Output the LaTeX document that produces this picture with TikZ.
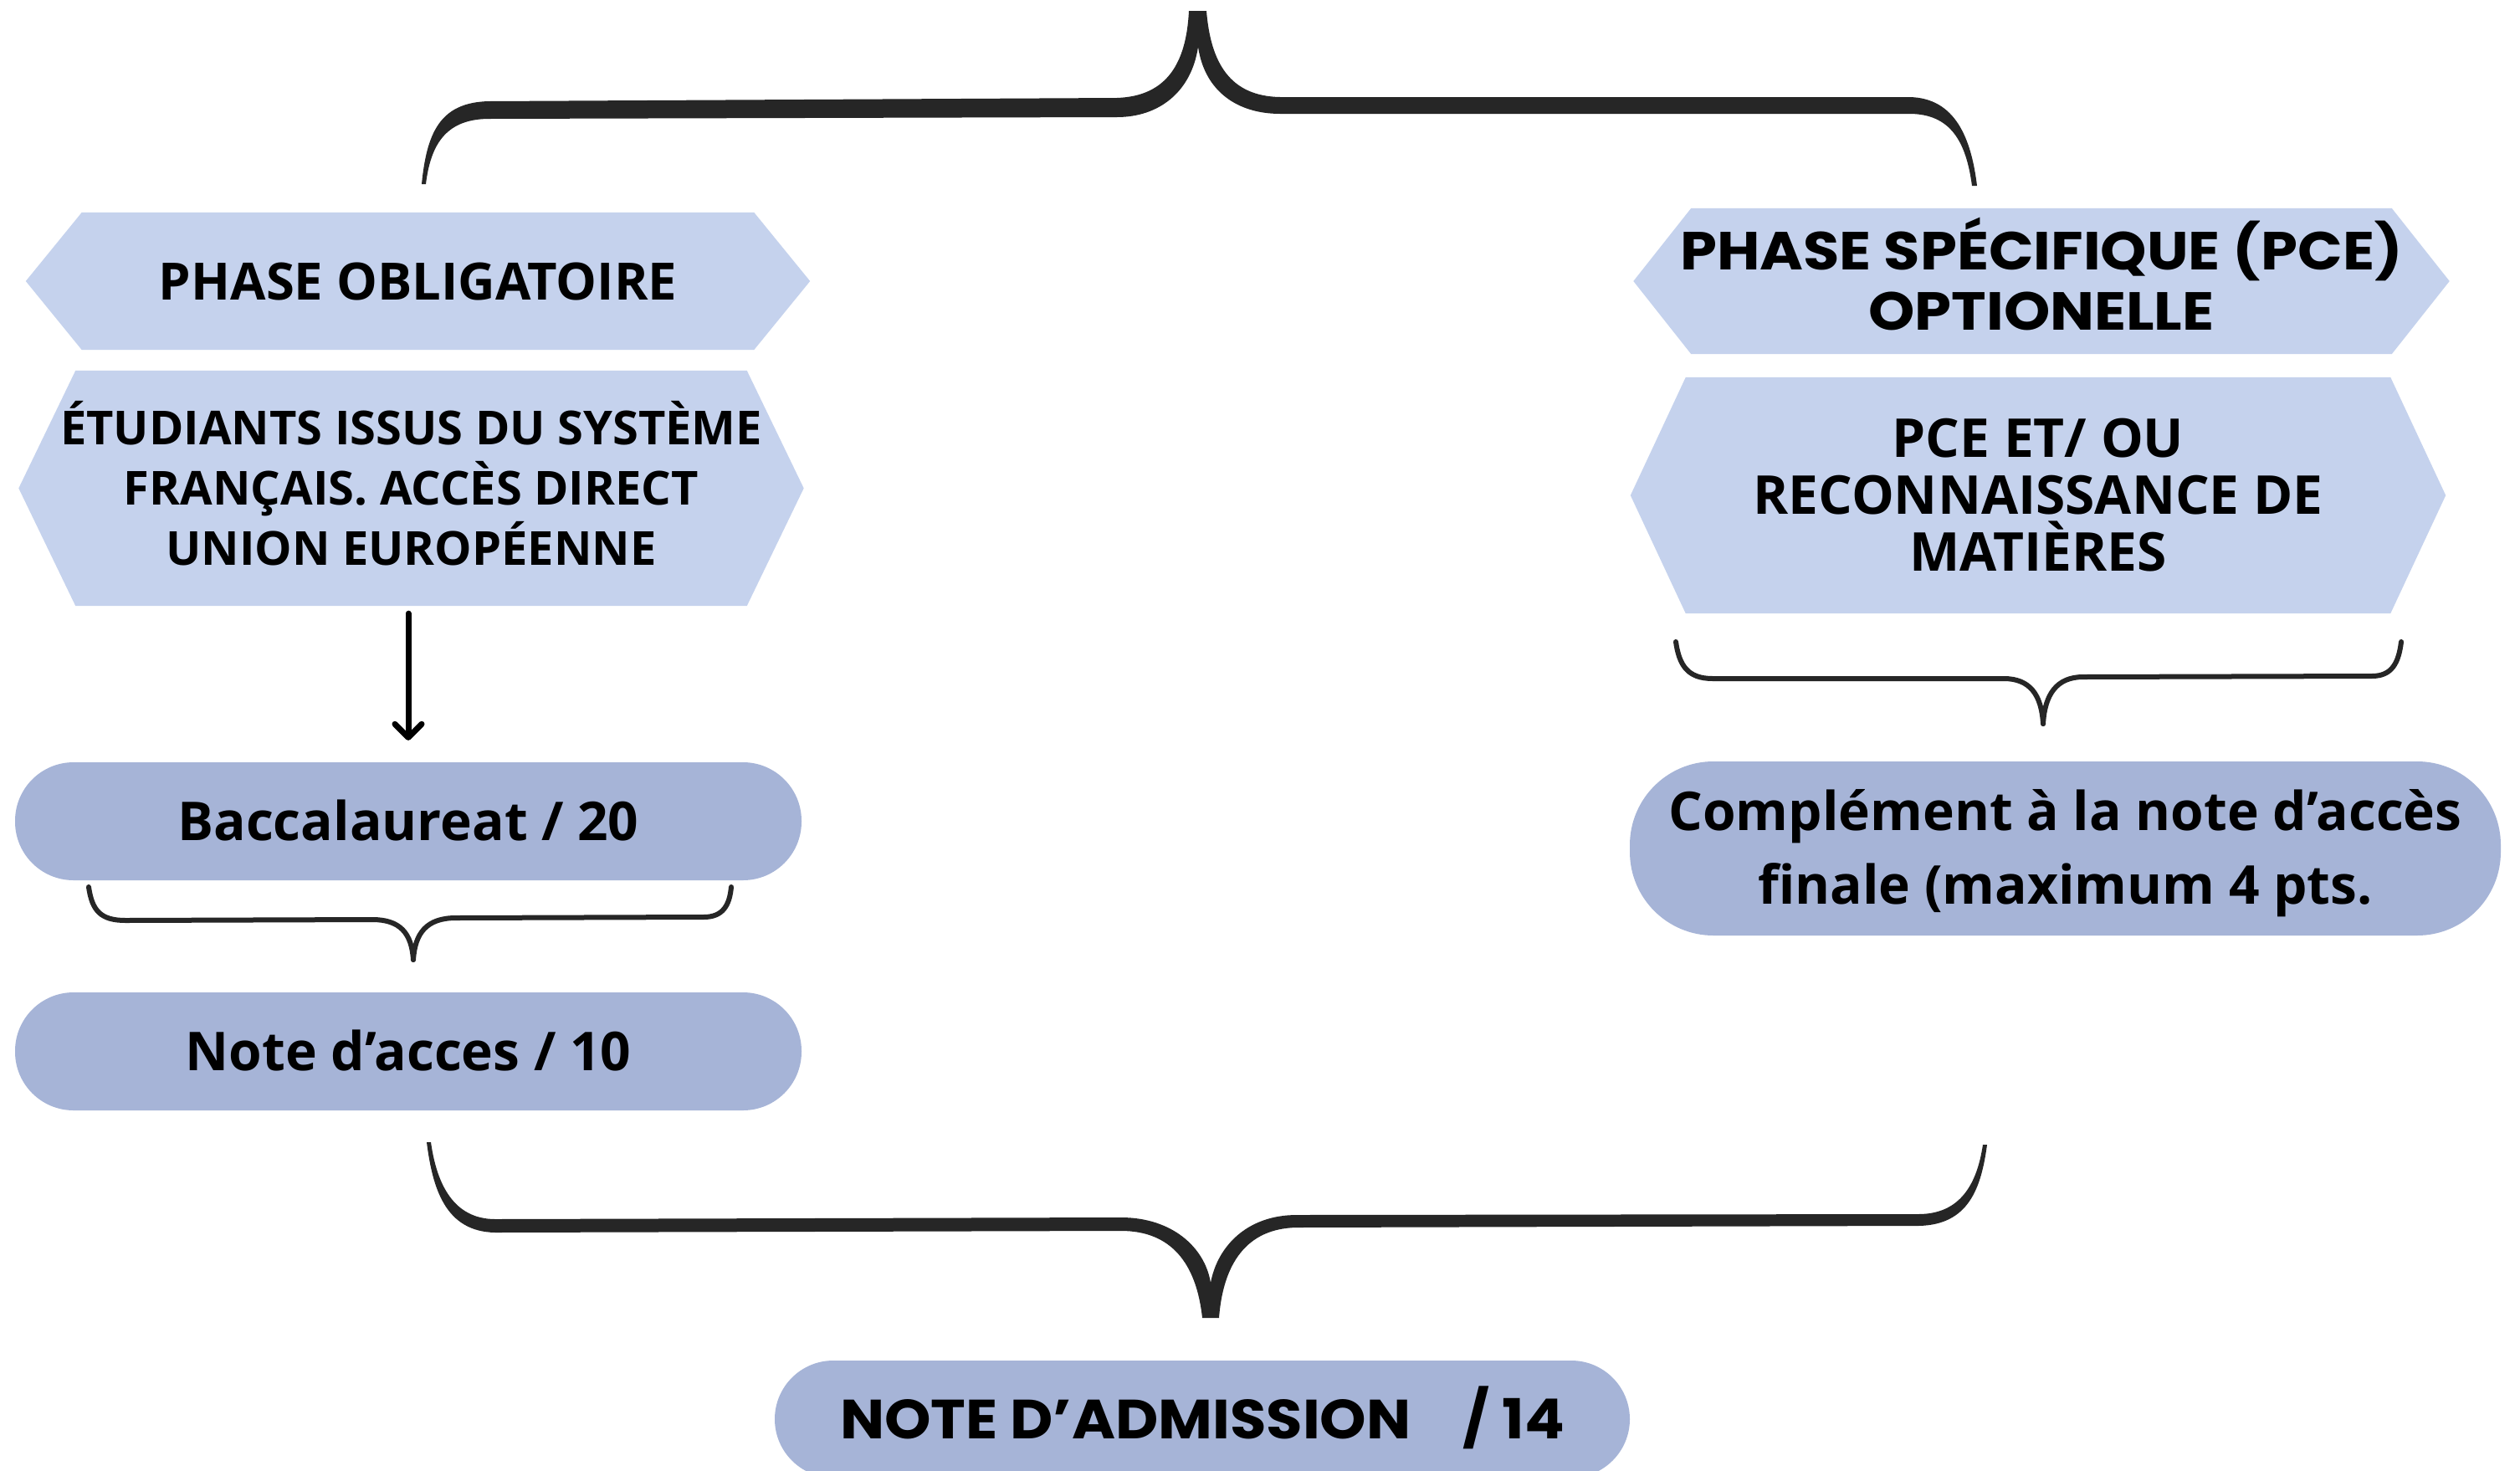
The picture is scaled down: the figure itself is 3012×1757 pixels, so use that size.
\documentclass[tikz,border=0pt]{standalone}
\usepackage{fontspec}
\setmainfont{Open Sans}
\newfontfamily\popfont{Poppins}[FakeStretch=1.1]
\newfontfamily\popadm{Poppins}[FakeStretch=1.07]
\usetikzlibrary{calc,arrows.meta,backgrounds}
\definecolor{hexblue}{HTML}{C5D2ED}
\definecolor{pillblue}{HTML}{A6B4D7}
\definecolor{inkc}{HTML}{262626}
\newcommand\hexpaint[2]{\fill[hexblue] (#1.west) -- ([xshift=#2pt]#1.north west) -- ([xshift=-#2pt]#1.north east) -- (#1.east) -- ([xshift=-#2pt]#1.south east) -- ([xshift=#2pt]#1.south west) -- cycle;}
\tikzset{
  hexnode/.style={rectangle, inner sep=0pt, align=center, text=black},
  pill/.style={rectangle, rounded corners=70pt, fill=pillblue, inner sep=0pt, align=center, text=black},
  bigbrace/.style={fill=inkc},
  thinbrace/.style={draw=inkc, line width=6pt, line cap=round, line join=round},
  arrowline/.style={draw=black, line width=7pt, line cap=round, -{Straight Barb[round, length=16pt, width=32pt]}},
}
\begin{document}
\begin{tikzpicture}[x=1pt,y=-1pt]
\useasboundingbox (0,0) rectangle (3012,1757);

% left column
\node[hexnode, minimum width=937pt, minimum height=164pt, font={\fontsize{61.5}{72}\selectfont\bfseries}, text height=44pt, text depth=0pt] (hexA) at (499.5,336) {PHASE OBLIGATOIRE};
\node[hexnode, minimum width=938pt, minimum height=281pt, font={\fontsize{56}{72}\selectfont\bfseries}, text height=184pt, text depth=0pt] (hexB) at (491.5,583.5) {ÉTUDIANTS ISSUS DU SYSTÈME\\FRANÇAIS. ACCÈS DIRECT\\UNION EUROPÉENNE};
\node[pill, minimum width=940pt, minimum height=141pt, font={\fontsize{64}{72}\selectfont\bfseries}, text height=46pt, text depth=0pt] (bac) at (488,981.5) {Baccalaureat / 20};
\node[pill, minimum width=940pt, minimum height=141pt, font={\fontsize{64}{72}\selectfont\bfseries}, text height=46pt, text depth=0pt] (note) at (488,1256.5) {Note d’acces / 10};

% right column
\node[hexnode, minimum width=975pt, minimum height=174pt, font={\popfont\fontsize{64}{72}\selectfont\bfseries}, text height=116pt, text depth=0pt] (hexC) at (2440,336) {PHASE SPÉCIFIQUE (PCE)\\OPTIONELLE};
\node[hexnode, minimum width=974pt, minimum height=282pt, font={\fontsize{64}{68}\selectfont\bfseries}, text height=181pt, text depth=0pt] (hexD) at (2436,592) {PCE ET/ OU\\RECONNAISSANCE DE\\MATIÈRES};
\node[pill, rounded corners=100pt, minimum width=1041pt, minimum height=208pt, font={\fontsize{64}{88}\selectfont\bfseries}, text height=132pt, text depth=0pt] (comp) at (2468.5,1014) {Complément à la note d’accès\\finale (maximum 4 pts.};

% bottom
\node[pill, minimum width=1022pt, minimum height=140pt, font={\popadm\fontsize{66}{72}\selectfont\bfseries}, text height=46pt, text depth=0pt] (adm) at (1437,1696) {NOTE D’ADMISSION\hspace{62pt}/ 14};

\begin{scope}[on background layer]
  \fill[white] (0,0) rectangle (3012,1757);
  \hexpaint{hexA}{67}
  \hexpaint{hexB}{68}
  \hexpaint{hexC}{69}
  \hexpaint{hexD}{66}
\end{scope}

% arrow
\draw[arrowline, shorten <=9pt, shorten >=26pt] ([xshift=-3.5pt]hexB.south) -- (bac.north);

% top big brace (tip up)
\fill[bigbrace] (504,220) .. controls (510,160) and (525,122) .. (585,121) -- (1335,117)
  .. controls (1395,115) and (1418,75) .. (1421,13) -- (1442,13)
  .. controls (1447,75) and (1470,115) .. (1530,116) -- (2282,116)
  .. controls (2337,117) and (2356,165) .. (2363,222)
  -- (2357,222) .. controls (2350,170) and (2332,136) .. (2282,136) -- (1530,136)
  .. controls (1480,136) and (1440,110) .. (1432,56)
  .. controls (1424,110) and (1385,140) .. (1335,140) -- (585,142)
  .. controls (535,142) and (515,170) .. (509,220) -- cycle;

% bottom big brace (tip down)
\fill[bigbrace] (510,1365) .. controls (517,1420) and (532,1472) .. (592,1473) -- (1340,1471)
  .. controls (1400,1471) and (1430,1510) .. (1437,1575) -- (1457,1575)
  .. controls (1462,1510) and (1490,1468) .. (1550,1467) -- (2293,1465)
  .. controls (2353,1464) and (2368,1420) .. (2375,1368)
  -- (2370,1368) .. controls (2363,1415) and (2343,1451) .. (2293,1451) -- (1550,1452)
  .. controls (1490,1452) and (1455,1490) .. (1447,1533)
  .. controls (1440,1490) and (1400,1455) .. (1340,1455) -- (592,1457)
  .. controls (542,1457) and (522,1415) .. (515,1365) -- cycle;

% small brace under Baccalaureat
\draw[thinbrace] (106,1060) .. controls (110,1088) and (120,1100) .. (150,1100) -- (445,1099)
  .. controls (478,1099) and (492,1115) .. (494,1147);
\draw[thinbrace] (494,1147) .. controls (496,1115) and (510,1097) .. (545,1097) -- (841,1096)
  .. controls (864,1096) and (872,1082) .. (874,1060);

% small brace under PCE
\draw[thinbrace] (2003,767) .. controls (2007,795) and (2017,811) .. (2047,811) -- (2395,811)
  .. controls (2426,811) and (2440,830) .. (2442,865);
\draw[thinbrace] (2442,865) .. controls (2444,830) and (2458,809) .. (2490,809) -- (2835,808)
  .. controls (2859,808) and (2867,792) .. (2870,767);
\end{tikzpicture}
\end{document}
